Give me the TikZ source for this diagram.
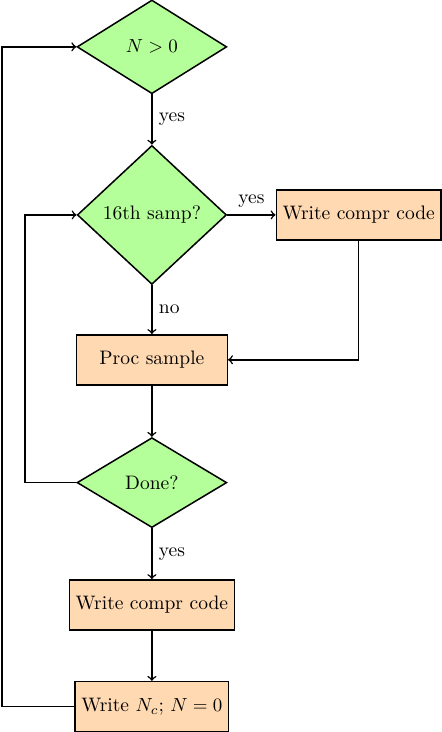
\documentclass[tikz,border=0pt]{standalone}
\usetikzlibrary{shapes.geometric}
\definecolor{decisiongreen}{RGB}{180,255,153}
\begin{document}
\begin{tikzpicture}[thick, font=\fontsize{10.3}{12}\selectfont,
    decision/.style={diamond, draw, fill=decisiongreen, inner sep=0pt},
    block/.style={rectangle, draw, fill=orange!30, minimum width=2.8cm, minimum height=0.93cm}]
            \useasboundingbox (0,0) rectangle (8.20,-13.59);
            \node[decision, minimum width=2.78cm, minimum height=1.74cm] (N) at (2.82,-0.87) {$N>0$};
            \node[decision, minimum width=2.77cm, minimum height=2.58cm] (samp) at (2.82,-3.99) {16th samp?};
            \node[block] (codeR) at (6.66,-3.99) {Write compr code};
            \node[block] (proc) at (2.82,-6.68) {Proc sample};
            \node[decision, minimum width=2.78cm, minimum height=1.67cm] (done) at (2.82,-8.96) {Done?};
            \node[block] (code) at (2.82,-11.23) {Write compr code};
            \node[block] (reset) at (2.82,-13.12) {Write $N_c$; $N=0$};
            \coordinate (loopA) at (0.46,-8.96); \coordinate (loopB) at (0.04,-13.12);
            \draw[->] (N) -- (samp) node[midway, right]{yes};
            \draw[->] (samp) -- (codeR) node[midway, above]{yes};
            \draw[->] (samp) -- (proc) node[midway, right]{no};
            \draw[->] (codeR.south) |- (proc.east);
            \draw[->] (proc) -- (done);
            \draw[->] (done) -- (code) node[midway, right]{yes};
            \draw[->] (code) -- (reset);
            \draw[->] (done.west) -- (loopA) |- (samp.west);
            \draw[->] (reset.west) -- (loopB) |- (N.west);
        \end{tikzpicture}
\end{document}
